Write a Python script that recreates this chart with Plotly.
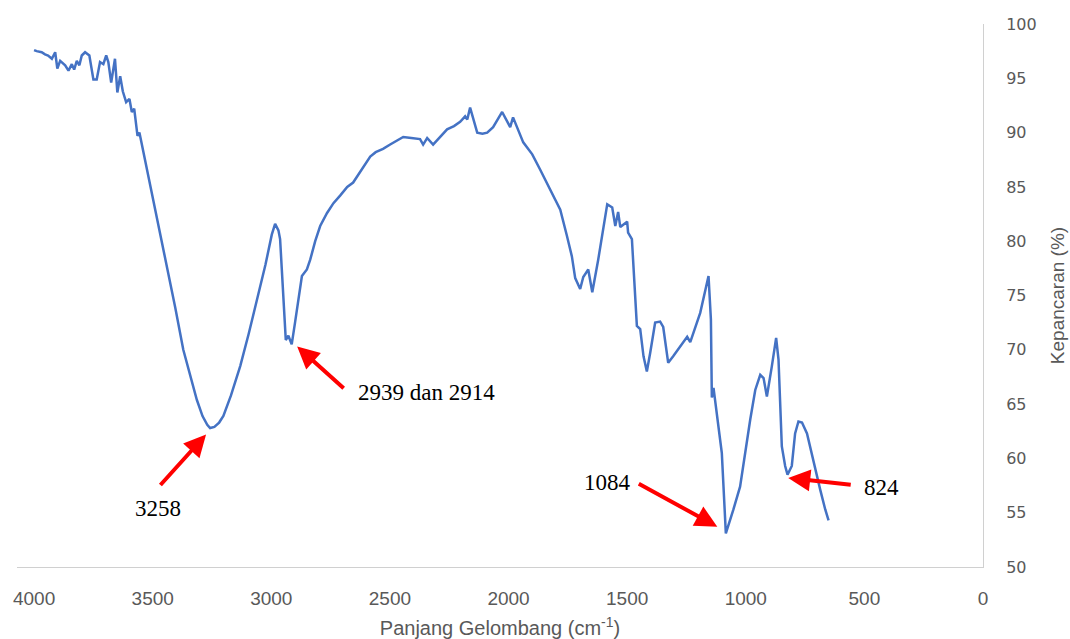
import plotly.graph_objects as go

# FTIR spectrum: wavenumber (cm-1) vs transmittance (%)
wavenumber = [
    4000, 3989, 3968, 3954, 3941, 3925, 3911, 3902, 3890, 3869, 3855, 3841, 3831, 3820,
    3809, 3799, 3785, 3767, 3750, 3736, 3722, 3708, 3696, 3687, 3675, 3659, 3649, 3637,
    3626, 3612, 3598, 3588, 3578, 3564, 3556, 3542, 3518, 3497, 3476, 3441, 3405, 3371,
    3340, 3314, 3290, 3270, 3258, 3240, 3220, 3202, 3170, 3131, 3095, 3061, 3025, 2998,
    2984, 2970, 2963, 2956, 2949, 2939, 2928, 2914, 2900, 2886, 2871, 2850, 2836, 2815,
    2794, 2765, 2738, 2710, 2680, 2655, 2620, 2583, 2560, 2529, 2499, 2470, 2444, 2410,
    2373, 2360, 2343, 2318, 2290, 2259, 2230, 2204, 2183, 2174, 2162, 2132, 2110, 2090,
    2065, 2027, 1993, 1981, 1938, 1900, 1867, 1825, 1782, 1754, 1733, 1719, 1698, 1685,
    1664, 1647, 1622, 1584, 1563, 1550, 1538, 1529, 1500, 1496, 1480, 1459, 1445, 1431,
    1417, 1403, 1382, 1361, 1348, 1327, 1306, 1247, 1234, 1192, 1157, 1147, 1143, 1136,
    1129, 1101, 1084, 1066, 1052, 1024, 1003, 981, 960, 939, 925, 911, 890, 872,
    862, 855, 848, 834, 824, 806, 792, 778, 763, 742, 714, 686, 665, 651,
]
transmittance = [
    97.6, 97.5, 97.4, 97.2, 97.1, 96.8, 97.4, 95.9, 96.6, 96.2, 95.7, 96.3, 95.8, 96.6,
    96.2, 97.1, 97.4, 97.1, 94.9, 94.9, 96.5, 96.3, 97.1, 96.5, 94.6, 96.8, 93.7, 95.2,
    93.8, 92.8, 93.1, 91.9, 92.2, 89.7, 90.0, 88.5, 86.0, 83.9, 81.4, 77.7, 73.9, 70.0,
    67.5, 65.4, 63.9, 63.1, 62.8, 62.9, 63.3, 63.9, 65.8, 68.5, 71.5, 74.6, 77.8, 80.6,
    81.6, 81.0, 80.2, 77.5, 74.6, 70.9, 71.3, 70.5, 72.5, 74.6, 76.8, 77.4, 78.3, 80.0,
    81.4, 82.6, 83.5, 84.2, 85.0, 85.4, 86.6, 87.8, 88.2, 88.5, 88.9, 89.3, 89.6, 89.5,
    89.4, 88.9, 89.5, 88.9, 89.6, 90.3, 90.6, 91.0, 91.5, 91.2, 92.3, 90.0, 89.9, 90.0,
    90.5, 91.9, 90.5, 91.4, 89.1, 88.0, 86.6, 84.8, 82.9, 80.5, 78.6, 76.6, 75.6, 76.7,
    77.4, 75.3, 78.3, 83.4, 83.1, 81.4, 82.7, 81.3, 81.8, 80.8, 80.2, 72.2, 71.9, 69.4,
    68.0, 69.7, 72.5, 72.6, 72.1, 68.8, 69.4, 71.2, 70.7, 73.4, 76.8, 72.8, 65.6, 66.5,
    65.4, 60.5, 53.1, 54.3, 55.3, 57.4, 60.5, 63.6, 66.3, 67.7, 67.4, 65.7, 68.5, 71.1,
    69.1, 65.1, 61.1, 59.3, 58.5, 59.3, 62.3, 63.4, 63.3, 62.3, 59.6, 57.1, 55.3, 54.3,
]

# Labelled bands: arrow tip (data units), tail offset (px), label position (data units)
peak_labels = ["3258", "2939 dan 2914", "1084", "824"]
tip_x = [3275, 2891, 1120, 821]
tip_y = [62.2, 70.3, 53.7, 58.2]
tail_dx = [-47, 48, -80, 64]
tail_dy = [52, 43, -44, 7]
text_x = [3477, 2642, 1584, 509]
text_y = [55.4, 66.05, 57.8, 57.3]
text_anchor = ["center", "left", "center", "left"]

GREY = "#595959"
LINE_BLUE = "#4472C4"

fig = go.Figure()
fig.add_trace(go.Scatter(
    x=wavenumber, y=transmittance, mode="lines",
    line=dict(color=LINE_BLUE, width=2.5),
    showlegend=False, hoverinfo="skip",
))

for i, lab in enumerate(peak_labels):
    # red arrow
    fig.add_annotation(
        x=tip_x[i], y=tip_y[i], xref="x", yref="y",
        ax=tail_dx[i], ay=tail_dy[i], axref="pixel", ayref="pixel",
        text="", showarrow=True, arrowhead=2, arrowsize=1.1,
        arrowwidth=4, arrowcolor="#ff0000",
    )
    # label text
    fig.add_annotation(
        x=text_x[i], y=text_y[i], xref="x", yref="y",
        text=lab, showarrow=False, xanchor=text_anchor[i], yanchor="middle",
        font=dict(family="Liberation Serif", size=23, color="#000000"),
    )

fig.update_layout(
    width=1070, height=639,
    margin=dict(l=17, r=87, t=24, b=72),
    paper_bgcolor="white", plot_bgcolor="white",
    xaxis=dict(
        range=[4072, 0], tickvals=[4000, 3500, 3000, 2500, 2000, 1500, 1000, 500, 0],
        showline=True, linecolor="#d0d0d0", linewidth=1, showgrid=False, zeroline=False,
        ticks="", ticklabelstandoff=14, automargin=False,
        tickfont=dict(family="Liberation Sans", size=19, color=GREY),
        title=dict(text="Panjang Gelombang (cm<sup>-1</sup>)",
                   font=dict(family="Liberation Sans", size=20, color=GREY), standoff=15),
    ),
    yaxis=dict(
        range=[50, 100], dtick=5, side="right",
        showline=True, linecolor="#d0d0d0", linewidth=1, showgrid=False, zeroline=False,
        ticks="", ticklabelstandoff=19, automargin=False,
        tickfont=dict(family="DejaVu Sans", size=16, color=GREY),
        title=dict(text="Kepancaran (%)",
                   font=dict(family="Liberation Sans", size=19, color=GREY), standoff=14),
    ),
)

fig.write_html("out.html")
